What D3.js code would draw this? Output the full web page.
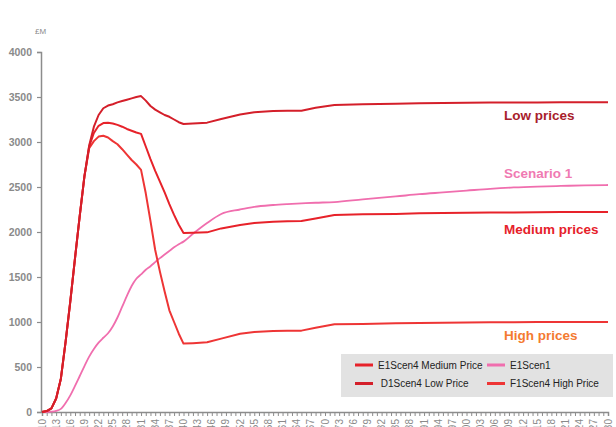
<!DOCTYPE html>
<html><head><meta charset="utf-8">
<script src="https://cdn.jsdelivr.net/npm/d3@7"></script>
<style>
html,body{margin:0;padding:0;background:#fff;overflow:hidden}
svg{display:block;font-family:"Liberation Sans",Arial,sans-serif}
</style></head><body>
<svg id="c" width="616" height="427"></svg>
<script>
const years = [2010,2011,2012,2013,2014,2015,2016,2017,2018,2019,2020,2021,2022,2023,2024,2025,2026,2027,2028,2029,2030,2031,2032,2033,2034,2035,2036,2037,2038,2039,2040,2042,2045,2048,2052,2055,2059,2062,2065,2068,2072,2078,2085,2090,2095,2100,2105,2110,2115,2120,2125,2130];
const lowPrice = [0,10,40,150,370,780,1230,1710,2180,2620,2960,3170,3300,3375,3405,3420,3440,3455,3470,3485,3500,3510,3460,3400,3360,3330,3300,3280,3250,3220,3200,3205,3215,3255,3305,3330,3344,3346,3348,3380,3410,3419,3426,3430,3432,3435,3438,3440,3440,3442,3442,3442];
const mediumPrice = [0,10,40,150,370,780,1230,1710,2180,2620,2950,3100,3180,3210,3215,3205,3190,3170,3145,3125,3105,3090,2950,2810,2680,2560,2440,2310,2190,2080,1990,1993,1996,2040,2078,2100,2115,2120,2122,2150,2189,2196,2200,2207,2210,2213,2216,2218,2220,2221,2222,2222];
const highPrice = [0,10,40,150,370,780,1230,1710,2180,2620,2930,3010,3060,3070,3050,3010,2975,2920,2860,2800,2750,2690,2430,2120,1800,1560,1340,1130,1000,870,760,765,774,815,870,890,900,902,904,935,974,978,985,990,992,995,997,998,1000,1000,1000,1000];
const scen1 = [0,0,3,12,35,100,185,290,400,510,615,700,770,825,875,950,1050,1170,1290,1400,1480,1530,1580,1620,1665,1710,1750,1790,1830,1865,1893,1980,2100,2200,2250,2280,2300,2310,2318,2325,2333,2363,2395,2420,2440,2460,2480,2495,2505,2512,2518,2522];
const yTicks = [0,500,1000,1500,2000,2500,3000,3500,4000];
const xLabelYears = d3.range(2010, 2131, 3);
const legendNames = ["E1Scen4 Medium Price","E1Scen1"," D1Scen4 Low Price","F1Scen4 High Price"];
const endLabels = ["Low prices","Scenario 1","Medium prices","High prices"];

const svg = d3.select("#c");
const x = d3.scaleLinear().domain([2010,2130]).range([42,608]);
const y = d3.scaleLinear().domain([0,4000]).range([412,52]);
const grey = "#8c8c8c";

// Y axis
const ya = svg.append("g").attr("transform","translate(41,0)")
  .call(d3.axisLeft(y).tickValues(yTicks).tickSize(4).tickPadding(5).tickFormat(d3.format("d")));
ya.select(".domain").attr("stroke",grey).attr("stroke-width",1.5);
ya.selectAll(".tick line").attr("stroke",grey).attr("stroke-width",1.2);
ya.selectAll(".tick text").attr("fill","#8a8a8a").attr("font-size",10.5).attr("font-weight","bold")
  .attr("font-family","Liberation Sans, Arial, sans-serif");

svg.append("text").attr("x",35).attr("y",34).attr("font-size",8).attr("fill","#8a8a8a").text("£M");

// X axis
const xa = svg.append("g").attr("transform","translate(0,412)")
  .call(d3.axisBottom(x).tickValues(d3.range(2010,2131,1)).tickSize(4).tickFormat(""));
xa.select(".domain").attr("stroke",grey).attr("stroke-width",1.5);
xa.selectAll(".tick line").attr("stroke",grey).attr("stroke-width",1);
svg.append("g").selectAll("text").data(xLabelYears).join("text")
  .attr("transform",d=>`translate(${x(d)+3.5},419) rotate(-90)`)
  .attr("text-anchor","end").attr("font-size",10).attr("fill","#8a8a8a")
  .text(d=>String(d));

// Lines
const line = d3.line().x((d,i)=>x(years[i])).y(d=>y(d));
const lineSmooth = d3.line().x((d,i)=>x(years[i])).y(d=>y(d)).curve(d3.curveMonotoneX);
const series = [
  {v:scen1, c:"#f06eae", f:lineSmooth, w:1.8},
  {v:highPrice, c:"#ee3535", f:line, w:2},
  {v:mediumPrice, c:"#e7222a", f:line, w:2},
  {v:lowPrice, c:"#d41f2a", f:line, w:2}
];
svg.append("g").selectAll("path").data(series).join("path")
  .attr("d",d=>d.f(d.v)).attr("fill","none").attr("stroke",d=>d.c)
  .attr("stroke-width",d=>d.w).attr("stroke-linejoin","round");

// End labels
const lblY = [119.5,178.3,234,340];
const lblC = ["#a8202b","#f07ab2","#e6212a","#f47a30"];
svg.append("g").selectAll("text").data(endLabels).join("text")
  .attr("x",504).attr("y",(d,i)=>lblY[i]).attr("fill",(d,i)=>lblC[i])
  .attr("font-size",13.5).attr("font-weight","bold").text(d=>d);

// Legend
svg.append("rect").attr("x",341).attr("y",354).attr("width",272).attr("height",43).attr("fill","#e2e2e2");
const legC = ["#e7222a","#f06eae","#d41f2a","#ee3535"];
const legPos = [[355,365],[487,365],[355,383.5],[487,383.5]];
const lg = svg.append("g").selectAll("g").data(legendNames).join("g")
  .attr("transform",(d,i)=>`translate(${legPos[i][0]},${legPos[i][1]})`);
lg.append("line").attr("x1",0).attr("x2",18).attr("y1",0).attr("y2",0)
  .attr("stroke",(d,i)=>legC[i]).attr("stroke-width",3);
lg.append("text").attr("x",23).attr("y",3.6).attr("font-size",10).attr("fill","#222")
  .attr("xml:space","preserve").style("white-space","pre").text(d=>d);
</script>
</body></html>
